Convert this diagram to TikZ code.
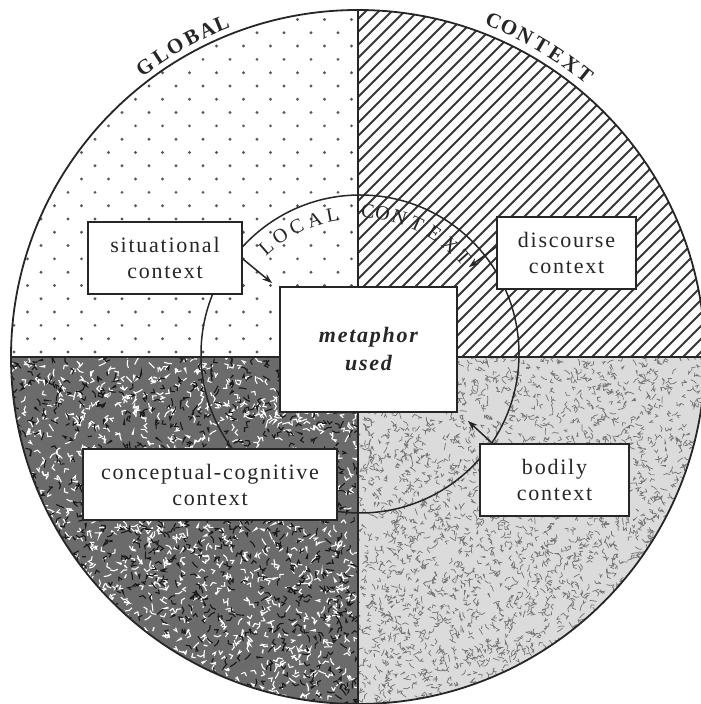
\documentclass[tikz,border=0pt]{standalone}
\usepackage{fontspec}
\setmainfont{Liberation Serif}
\newfontfamily\boxfont[LetterSpace=8]{Liberation Serif}
\usetikzlibrary{arrows.meta,calc}
\begin{document}
\begin{tikzpicture}[x=1pt,y=1pt,
  box/.style={draw=black!85, line width=1.8pt, fill=white, align=center, inner sep=0pt, text=black!85, font=\boxfont\fontsize{22}{26}\selectfont},
  arr/.style={draw=black!85, line width=1.5pt, -{Stealth[length=10pt,width=7pt]}},
  outl/.style={draw=black!85, line width=1.8pt},
  glet/.style={font=\bfseries\fontsize{21}{21}\selectfont, text=black!85, inner sep=0pt},
  llet/.style={font=\fontsize{20}{20}\selectfont, text=black!85, inner sep=0pt},
]
\useasboundingbox (0,0) rectangle (701,704);
\fill[white] (0,0) rectangle (701,704);
\coordinate (O) at (358,347);
\coordinate (I) at (360,350);
\coordinate (T) at (358,351);
\pgfmathsetseed{7}
% top-left: dots
\begin{scope}
  \clip (O) circle (347pt);
  \clip (0,347) rectangle (358,704);
  \foreach \j in {0,...,26}{
    \pgfmathsetmacro\off{mod(\j,2)*13.5}
    \foreach \i in {0,...,13}{
      \fill[black!65] (14+\off+\i*27, 352+\j*13.3) circle (1.6pt);
    }
  }
\end{scope}
% top-right: hatching
\begin{scope}
  \clip (O) circle (347pt);
  \clip (358,347) rectangle (710,704);
  \foreach \k in {-28,...,28}
    \draw[black!78, line width=1.8pt] (358+\k*13,347) -- ++(370,370);
\end{scope}
% bottom-right: light stipple
\begin{scope}
  \clip (O) circle (347pt);
  \clip (358,0) rectangle (710,347);
  \fill[black!14] (358,0) rectangle (710,347);
  \foreach \n in {1,...,2800}
    \draw[black!55, line width=0.7pt] (358+rnd*350, rnd*347) -- ++({rnd*360}:3.5) -- ++({rnd*360}:3.5);
\end{scope}
% bottom-left: dark marbled
\begin{scope}
  \clip (O) circle (347pt);
  \clip (0,0) rectangle (358,347);
  \fill[black!58] (0,0) rectangle (358,347);
  \foreach \n in {1,...,1500}
    \draw[white, line width=1.1pt] (rnd*358, rnd*347) -- ++({rnd*360}:4) -- ++({rnd*360}:4);
  \foreach \n in {1,...,1200}
    \draw[black!90, line width=1.1pt] (rnd*358, rnd*347) -- ++({rnd*360}:4) -- ++({rnd*360}:4);
\end{scope}
% outline and dividers
\draw[outl] (O) circle (347pt);
\draw[outl] (358,0) -- (358,694);
\draw[outl] (11,347) -- (705,347);
% local circle
\draw[black!85, line width=1.5pt] (I) circle (159pt);
% boxes
\node[box, minimum width=154pt, minimum height=72pt] (sit) at (165,446) {situational\\context};
\node[box, minimum width=139pt, minimum height=72pt] (disc) at (566.5,451) {discourse\\context};
\node[box, minimum width=177pt, minimum height=125pt, font=\boxfont\bfseries\itshape\fontsize{22}{28}\selectfont] (meta) at (368.5,354.5) {metaphor\\used};
\node[box, minimum width=149pt, minimum height=72pt] (body) at (554.5,224) {bodily\\context};
\node[box, minimum width=254pt, minimum height=71pt] (conc) at (210,219.5) {conceptual-cognitive\\context};
% arrows
\draw[arr] ($(sit.east)+(0,-1)$) -- ($(meta.north west)+(-7,3)$);
\draw[arr] ($(body.north west)+(13,0)$) -- ($(meta.south east)+(10,-8)$);
\draw[arr] ($(disc.west)+(0,6)$) -- ($(meta.north east)+(11,19)$);
% outer labels
\foreach \l/\a [count=\i] in {G/126.3,L/123.3,O/120.5,B/117.5,A/114.8,L/112.3}
  \node[glet, rotate=\a-90] (gl\i) at ([shift={(\a:360)}]O) {\l};
\foreach \l/\a [count=\i] in {C/68,O/65.3,N/62.5,T/59.6,E/56.8,X/54,T/51.2}
  \node[glet, rotate=\a-90] (gc\i) at ([shift={(\a:362)}]O) {\l};
% inner labels
\foreach \l/\a [count=\i] in {L/131,O/123.7,C/116,A/108,L/100.5}
  \node[llet, rotate=\a-90] (ll\i) at ([shift={(\a:140)}]T) {\l};
\foreach \l/\a [count=\i] in {C/86,O/80,N/73,T/65.5,E/57.5,X/49.5,T/42}
  \node[llet, rotate=\a-90] (lc\i) at ([shift={(\a:142)}]T) {\l};
\end{tikzpicture}
\end{document}
